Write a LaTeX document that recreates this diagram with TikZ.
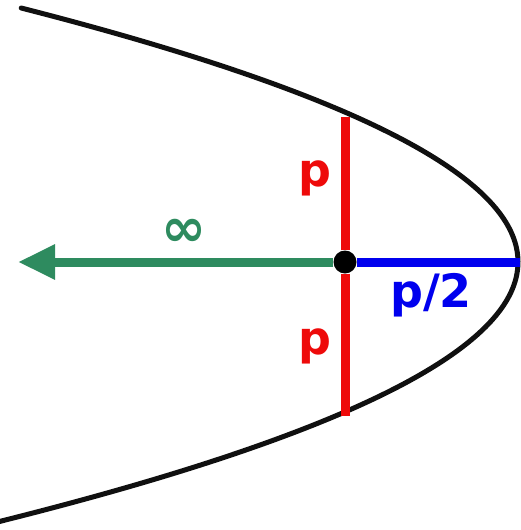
\documentclass[tikz,border=0pt]{standalone}
\usepackage{fontspec}
\setmainfont{DejaVu Sans}
\usetikzlibrary{arrows.meta}

\definecolor{curvecolor} {HTML}{101010}
\definecolor{chordcolor} {HTML}{EE0A0A}
\definecolor{halfcolor}  {HTML}{0000EE}
\definecolor{raycolor}   {HTML}{2E8B5F}

\tikzset{
  labeltext/.style={inner sep=0pt, font=\fontsize{46}{50}\selectfont\bfseries}
}

\begin{document}
\begin{tikzpicture}[x=1pt, y=-1pt]
\useasboundingbox (0,0) rectangle (520,530);

%% ── Parabola ─────────────────────────────────────────
\draw[curvecolor, line width=5pt, line cap=round]
  plot[domain=-254:266, samples=120, smooth]
  ({518-(0.08775*\x)*(0.08775*\x)}, {262+\x});

%% ── Points ───────────────────────────────────────────
\coordinate (vertex)   at (520,262);
\coordinate (chordtop) at (345,117);
\coordinate (chordbot) at (345,416);
\coordinate (farleft)  at (18,262);
\node[circle, fill=black, inner sep=0pt, minimum size=23pt] (focus) at (345,262) {};

%% ── Segments ─────────────────────────────────────────
\draw[chordcolor, line width=9pt] (focus) -- (chordtop);
\draw[chordcolor, line width=9pt] (focus) -- (chordbot);
\draw[halfcolor, line width=9pt] (focus) -- (vertex);
\draw[raycolor, line width=9pt, -{Triangle[length=37pt, width=33pt]}]
  (focus) -- (farleft);

%% ── Labels ───────────────────────────────────────────
\node[labeltext, text=chordcolor] (ptop) at (315,178) {p};
\node[labeltext, text=chordcolor] (pbot) at (315,346) {p};
\node[labeltext, text=halfcolor]  (phalf) at (431,295) {p/2};
\node[labeltext, text=raycolor, font=\fontsize{54}{58}\selectfont\bfseries]
  (inf) at (184,233) {∞};
\end{tikzpicture}
\end{document}
